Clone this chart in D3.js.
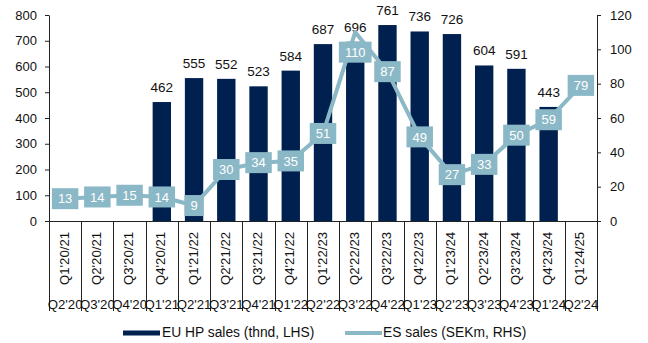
<!DOCTYPE html>
<html>
<head>
<meta charset="utf-8">
<script src="https://cdn.jsdelivr.net/npm/d3@7"></script>
<style>
  html, body { margin: 0; padding: 0; background: #fff; }
  svg { display: block; font-family: "Liberation Sans", Arial, Helvetica, sans-serif; }
</style>
</head>
<body>
<svg id="chart" width="648" height="343"></svg>
<script>
const fiscalLabels = ["Q1'20/21","Q2'20/21","Q3'20/21","Q4'20/21","Q1'21/22","Q2'21/22","Q3'21/22","Q4'21/22","Q1'22/23","Q2'22/23","Q3'22/23","Q4'22/23","Q1'23/24","Q2'23/24","Q3'23/24","Q4'23/24","Q1'24/25"];
const calendarLabels = ["Q2'20","Q3'20","Q4'20","Q1'21","Q2'21","Q3'21","Q4'21","Q1'22","Q2'22","Q3'22","Q4'22","Q1'23","Q2'23","Q3'23","Q4'23","Q1'24","Q2'24"];
const euHpSales = [null,null,null,462,555,552,523,584,687,696,761,736,726,604,591,443,null];
const esSales = [13,14,15,14,9,30,34,35,51,110,87,49,27,33,50,59,79];
const leftTicks = [0,100,200,300,400,500,600,700,800];
const rightTicks = [0,20,40,60,80,100,120];
const seriesNames = ["EU HP sales (thnd, LHS)", "ES sales (SEKm, RHS)"];

const navy = "#002050";
const lightBlue = "#8bb8c6";
const axisColor = "#222";

const svg = d3.select("#chart");
const plot = { left: 49, right: 597, top: 15, bottom: 221 };

const x = d3.scaleBand().domain(fiscalLabels).range([plot.left, plot.right])
  .paddingInner(0.43).paddingOuter(0.215);
const step = x.step();
const cx = d => x(d) + x.bandwidth() / 2;
const yL = d3.scaleLinear().domain([0, 800]).range([plot.bottom, plot.top]);
const yR = d3.scaleLinear().domain([0, 120]).range([plot.bottom, plot.top]);

// Bars
const barData = fiscalLabels.map((c, i) => ({ c, v: euHpSales[i] })).filter(d => d.v != null);
svg.append("g").selectAll("rect").data(barData).join("rect")
  .attr("x", d => x(d.c)).attr("width", x.bandwidth())
  .attr("y", d => yL(d.v)).attr("height", d => yL(0) - yL(d.v))
  .attr("fill", navy);

svg.append("g").selectAll("text").data(barData).join("text")
  .attr("x", d => cx(d.c)).attr("y", d => yL(d.v) - 10)
  .attr("text-anchor", "middle").attr("font-size", 13.5).attr("fill", "#111")
  .text(d => d.v);

// Left axis
const gL = svg.append("g").attr("transform", `translate(${plot.left},0)`)
  .call(d3.axisLeft(yL).tickValues(leftTicks).tickSize(4).tickPadding(8).tickSizeOuter(0));
gL.select(".domain").attr("stroke", axisColor);
gL.selectAll(".tick line").attr("stroke", axisColor);
gL.selectAll("text").attr("font-size", 13).attr("fill", "#111").attr("font-family", null);

// Right axis
const gR = svg.append("g").attr("transform", `translate(${plot.right},0)`)
  .call(d3.axisRight(yR).tickValues(rightTicks).tickSize(4).tickPadding(9).tickSizeOuter(0));
gR.select(".domain").attr("stroke", axisColor);
gR.selectAll(".tick line").attr("stroke", axisColor);
gR.selectAll("text").attr("font-size", 13).attr("fill", "#111").attr("font-family", null);

// X axis baseline and category separators
const gX = svg.append("g");
gX.append("line").attr("x1", plot.left).attr("x2", plot.right)
  .attr("y1", plot.bottom + 0.5).attr("y2", plot.bottom + 0.5).attr("stroke", axisColor);
const bounds = fiscalLabels.map(c => x(c) - (step - x.bandwidth()) / 2).concat([plot.right]);
gX.selectAll("line.sep").data(bounds).join("line").attr("class", "sep")
  .attr("x1", d => Math.round(d) + 0.5).attr("x2", d => Math.round(d) + 0.5)
  .attr("y1", plot.bottom).attr("y2", 311).attr("stroke", axisColor);

gX.selectAll("text.fy").data(fiscalLabels).join("text").attr("class", "fy")
  .attr("transform", d => `translate(${cx(d) + 3.5},258.5) rotate(-90)`)
  .attr("text-anchor", "middle").attr("font-size", 13.2).attr("fill", "#111")
  .text(d => d);

gX.selectAll("text.cy").data(calendarLabels).join("text").attr("class", "cy")
  .attr("x", (d, i) => cx(fiscalLabels[i])).attr("y", 309)
  .attr("text-anchor", "middle").attr("font-size", 13.2).attr("fill", "#111")
  .text(d => d);

// Line
const lineData = fiscalLabels.map((c, i) => ({ c, v: esSales[i] }));
svg.append("path").datum(lineData)
  .attr("d", d3.line().x(d => cx(d.c)).y(d => yR(d.v)))
  .attr("fill", "none").attr("stroke", lightBlue).attr("stroke-width", 4)
  .attr("stroke-linejoin", "round");

const boxH = 21;
const markers = svg.append("g").selectAll("g").data(lineData).join("g")
  .attr("transform", d => {
    let yy = yR(d.v);
    if (yy - boxH / 2 < plot.top + 10) yy += boxH - 1;
    return `translate(${cx(d.c)},${yy})`;
  });
markers.append("text")
  .attr("text-anchor", "middle").attr("dy", "0.36em")
  .attr("font-size", 13).attr("fill", "#fff")
  .text(d => d.v)
  .each(function () {
    const w = this.getComputedTextLength() + 12;
    d3.select(this.parentNode).insert("rect", "text")
      .attr("x", -w / 2).attr("y", -boxH / 2).attr("width", w).attr("height", boxH)
      .attr("fill", lightBlue);
  });

// Legend
const lg = svg.append("g");
lg.append("rect").attr("x", 123).attr("y", 330.5).attr("width", 37).attr("height", 5).attr("fill", navy);
lg.append("text").attr("x", 162).attr("y", 337.3).attr("font-size", 13.8).attr("fill", "#111").text(seriesNames[0]);
lg.append("line").attr("x1", 345).attr("x2", 382).attr("y1", 333).attr("y2", 333)
  .attr("stroke", lightBlue).attr("stroke-width", 4);
lg.append("text").attr("x", 383).attr("y", 337.3).attr("font-size", 13.8).attr("fill", "#111").text(seriesNames[1]);
</script>
</body>
</html>
